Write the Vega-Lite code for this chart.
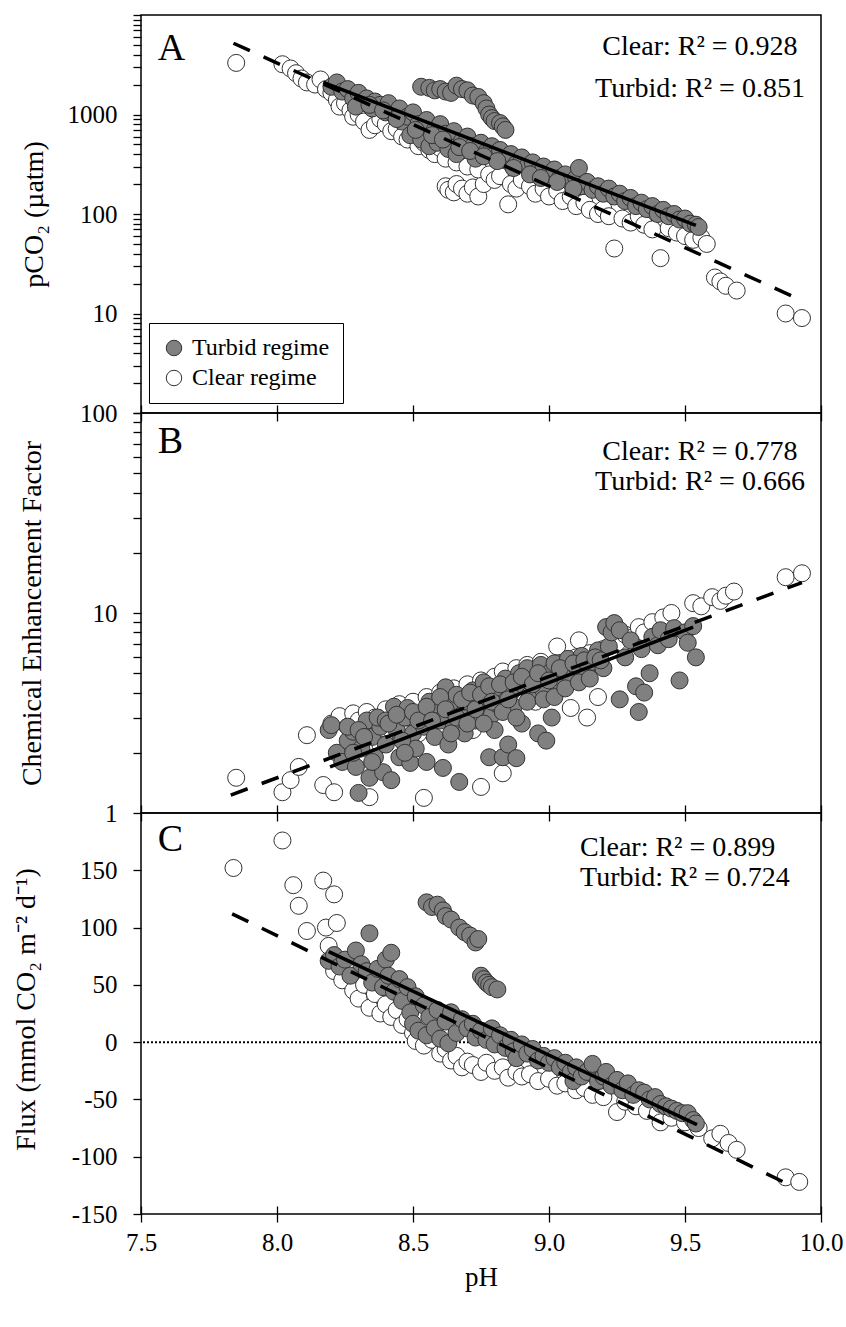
{
  "$schema": "https://vega.github.io/schema/vega-lite/v6.json",
  "autosize": "none",
  "padding": {"left": 141, "top": 15, "right": 705, "bottom": 1312},
  "background": "white",
  "bounds": "flush",
  "spacing": 0,
  "config": {
    "font": "Liberation Serif",
    "view": {"stroke": "black", "strokeWidth": 1.5},
    "axis": {"grid": false, "domain": false, "labelFont": "Liberation Serif", "labelFontSize": 25, "labelColor": "black", "titleFont": "Liberation Serif", "titleFontSize": 28, "titleFontWeight": "normal", "titleColor": "black", "tickColor": "black", "tickWidth": 1.3, "labelFlush": false, "labelOverlap": false},
    "axisX": {"offset": -8, "tickSize": 16, "labelPadding": 8, "titlePadding": 9},
    "axisY": {"tickSize": 8, "labelPadding": 16, "titleAngle": 270, "titleBaseline": "alphabetic", "titleAlign": "center"},
    "text": {"font": "Liberation Serif", "color": "black"}
  },
  "resolve": {"scale": {"fill": "independent"}, "legend": {"fill": "independent"}},
  "datasets": {
    "one": [{}],
    "fit": [
      {"p":"A","r":"C","x":7.84,"y":5200},{"p":"A","r":"C","x":9.93,"y":13.5},
      {"p":"A","r":"T","x":8.17,"y":2100},{"p":"A","r":"T","x":9.54,"y":77},
      {"p":"B","r":"C","x":7.83,"y":1.23},{"p":"B","r":"C","x":9.93,"y":14.2},
      {"p":"B","r":"T","x":8.195,"y":1.7},{"p":"B","r":"T","x":9.53,"y":8.5},
      {"p":"C","r":"C","x":7.835,"y":112},{"p":"C","r":"C","x":9.905,"y":-127},
      {"p":"C","r":"T","x":8.19,"y":79},{"p":"C","r":"T","x":9.544,"y":-72}
    ],
    "a": [
      {"r":"C","x":7.85,"y":3300},{"r":"C","x":8.02,"y":3200},{"r":"C","x":8.05,"y":2900},{"r":"C","x":8.07,"y":2600},{"r":"C","x":8.09,"y":2300},{"r":"C","x":8.11,"y":2100},{"r":"C","x":8.14,"y":2000},{"r":"C","x":8.16,"y":2250},{"r":"C","x":8.18,"y":1800},{"r":"C","x":8.2,"y":1650},{"r":"C","x":8.22,"y":1400},{"r":"C","x":8.23,"y":1200},{"r":"C","x":8.25,"y":1300},{"r":"C","x":8.27,"y":1100},{"r":"C","x":8.28,"y":950},{"r":"C","x":8.3,"y":1000},{"r":"C","x":8.32,"y":850},{"r":"C","x":8.34,"y":700},{"r":"C","x":8.36,"y":780},{"r":"C","x":8.38,"y":900},{"r":"C","x":8.4,"y":800},{"r":"C","x":8.42,"y":680},{"r":"C","x":8.44,"y":720},{"r":"C","x":8.46,"y":600},{"r":"C","x":8.48,"y":560},{"r":"C","x":8.5,"y":620},{"r":"C","x":8.52,"y":480},{"r":"C","x":8.54,"y":520},{"r":"C","x":8.56,"y":440},{"r":"C","x":8.58,"y":400},{"r":"C","x":8.6,"y":460},{"r":"C","x":8.62,"y":190},{"r":"C","x":8.63,"y":175},{"r":"C","x":8.65,"y":165},{"r":"C","x":8.66,"y":200},{"r":"C","x":8.68,"y":180},{"r":"C","x":8.7,"y":160},{"r":"C","x":8.72,"y":185},{"r":"C","x":8.74,"y":150},{"r":"C","x":8.76,"y":200},{"r":"C","x":8.62,"y":360},{"r":"C","x":8.66,"y":330},{"r":"C","x":8.7,"y":300},{"r":"C","x":8.74,"y":280},{"r":"C","x":8.78,"y":250},{"r":"C","x":8.8,"y":220},{"r":"C","x":8.82,"y":240},{"r":"C","x":8.85,"y":125},{"r":"C","x":8.86,"y":200},{"r":"C","x":8.88,"y":180},{"r":"C","x":8.9,"y":220},{"r":"C","x":8.93,"y":190},{"r":"C","x":8.95,"y":160},{"r":"C","x":8.98,"y":180},{"r":"C","x":9.0,"y":150},{"r":"C","x":9.03,"y":170},{"r":"C","x":9.05,"y":135},{"r":"C","x":9.08,"y":150},{"r":"C","x":9.1,"y":120},{"r":"C","x":9.13,"y":130},{"r":"C","x":9.15,"y":110},{"r":"C","x":9.18,"y":100},{"r":"C","x":9.2,"y":112},{"r":"C","x":9.22,"y":95},{"r":"C","x":9.24,"y":45},{"r":"C","x":9.27,"y":90},{"r":"C","x":9.3,"y":82},{"r":"C","x":9.33,"y":95},{"r":"C","x":9.35,"y":78},{"r":"C","x":9.38,"y":70},{"r":"C","x":9.41,"y":36},{"r":"C","x":9.44,"y":72},{"r":"C","x":9.47,"y":65},{"r":"C","x":9.5,"y":60},{"r":"C","x":9.53,"y":55},{"r":"C","x":9.56,"y":58},{"r":"C","x":9.58,"y":50},{"r":"C","x":9.61,"y":23},{"r":"C","x":9.63,"y":21},{"r":"C","x":9.65,"y":19},{"r":"C","x":9.69,"y":17},{"r":"C","x":9.87,"y":10},{"r":"C","x":9.93,"y":9},
      {"r":"T","x":8.2,"y":1900},{"r":"T","x":8.22,"y":2100},{"r":"T","x":8.24,"y":1700},{"r":"T","x":8.26,"y":1800},{"r":"T","x":8.28,"y":1450},{"r":"T","x":8.3,"y":1650},{"r":"T","x":8.31,"y":1300},{"r":"T","x":8.33,"y":1450},{"r":"T","x":8.35,"y":1150},{"r":"T","x":8.36,"y":1350},{"r":"T","x":8.38,"y":1250},{"r":"T","x":8.4,"y":1050},{"r":"T","x":8.41,"y":1300},{"r":"T","x":8.43,"y":1000},{"r":"T","x":8.45,"y":1150},{"r":"T","x":8.46,"y":850},{"r":"T","x":8.48,"y":950},{"r":"T","x":8.49,"y":620},{"r":"T","x":8.5,"y":1050},{"r":"T","x":8.52,"y":800},{"r":"T","x":8.53,"y":560},{"r":"T","x":8.55,"y":880},{"r":"T","x":8.56,"y":480},{"r":"T","x":8.58,"y":700},{"r":"T","x":8.59,"y":520},{"r":"T","x":8.6,"y":800},{"r":"T","x":8.62,"y":640},{"r":"T","x":8.63,"y":450},{"r":"T","x":8.65,"y":680},{"r":"T","x":8.66,"y":400},{"r":"T","x":8.68,"y":540},{"r":"T","x":8.7,"y":600},{"r":"T","x":8.72,"y":480},{"r":"T","x":8.73,"y":360},{"r":"T","x":8.75,"y":520},{"r":"T","x":8.77,"y":420},{"r":"T","x":8.79,"y":480},{"r":"T","x":8.8,"y":390},{"r":"T","x":8.82,"y":440},{"r":"T","x":8.84,"y":350},{"r":"T","x":8.86,"y":400},{"r":"T","x":8.88,"y":320},{"r":"T","x":8.9,"y":370},{"r":"T","x":8.92,"y":300},{"r":"T","x":8.94,"y":330},{"r":"T","x":8.96,"y":270},{"r":"T","x":8.98,"y":300},{"r":"T","x":9.0,"y":250},{"r":"T","x":9.02,"y":280},{"r":"T","x":9.04,"y":230},{"r":"T","x":9.06,"y":250},{"r":"T","x":9.08,"y":205},{"r":"T","x":9.1,"y":230},{"r":"T","x":9.11,"y":290},{"r":"T","x":9.12,"y":190},{"r":"T","x":9.14,"y":210},{"r":"T","x":9.16,"y":175},{"r":"T","x":9.18,"y":190},{"r":"T","x":9.2,"y":160},{"r":"T","x":9.22,"y":180},{"r":"T","x":9.24,"y":150},{"r":"T","x":9.26,"y":160},{"r":"T","x":9.28,"y":135},{"r":"T","x":9.3,"y":145},{"r":"T","x":9.32,"y":120},{"r":"T","x":9.34,"y":130},{"r":"T","x":9.36,"y":112},{"r":"T","x":9.38,"y":120},{"r":"T","x":9.4,"y":100},{"r":"T","x":9.42,"y":110},{"r":"T","x":9.44,"y":95},{"r":"T","x":9.46,"y":100},{"r":"T","x":9.48,"y":88},{"r":"T","x":9.5,"y":90},{"r":"T","x":9.52,"y":80},{"r":"T","x":9.54,"y":78},{"r":"T","x":9.55,"y":74},
      {"r":"T","x":8.29,"y":1200},{"r":"T","x":8.34,"y":1250},{"r":"T","x":8.39,"y":1100},{"r":"T","x":8.44,"y":900},{"r":"T","x":8.51,"y":700},{"r":"T","x":8.57,"y":620},{"r":"T","x":8.61,"y":560},{"r":"T","x":8.67,"y":470},{"r":"T","x":8.71,"y":430},{"r":"T","x":8.76,"y":380},{"r":"T","x":8.81,"y":340},{"r":"T","x":8.87,"y":290},{"r":"T","x":8.93,"y":250},{"r":"T","x":8.97,"y":230},{"r":"T","x":9.03,"y":210},{"r":"T","x":9.09,"y":180},
      {"r":"T","x":8.53,"y":1900},{"r":"T","x":8.56,"y":1850},{"r":"T","x":8.58,"y":1750},{"r":"T","x":8.6,"y":1800},{"r":"T","x":8.62,"y":1700},{"r":"T","x":8.64,"y":1650},{"r":"T","x":8.66,"y":1950},{"r":"T","x":8.68,"y":1800},{"r":"T","x":8.7,"y":1750},{"r":"T","x":8.72,"y":1550},{"r":"T","x":8.74,"y":1500},{"r":"T","x":8.76,"y":1300},{"r":"T","x":8.77,"y":1150},{"r":"T","x":8.78,"y":1000},{"r":"T","x":8.79,"y":920},{"r":"T","x":8.8,"y":860},{"r":"T","x":8.82,"y":820},{"r":"T","x":8.83,"y":760},{"r":"T","x":8.84,"y":700}
    ],
    "b": [
      {"r":"C","x":7.85,"y":1.5},{"r":"C","x":8.02,"y":1.27},{"r":"C","x":8.05,"y":1.46},{"r":"C","x":8.08,"y":1.7},{"r":"C","x":8.11,"y":2.45},{"r":"C","x":8.17,"y":1.38},{"r":"C","x":8.21,"y":1.27},{"r":"C","x":8.2,"y":2.8},{"r":"C","x":8.23,"y":3.05},{"r":"C","x":8.26,"y":2.7},{"r":"C","x":8.28,"y":3.15},{"r":"C","x":8.3,"y":2.9},{"r":"C","x":8.33,"y":3.2},{"r":"C","x":8.34,"y":1.2},{"r":"C","x":8.36,"y":3.0},{"r":"C","x":8.38,"y":2.2},{"r":"C","x":8.4,"y":3.3},{"r":"C","x":8.42,"y":2.6},{"r":"C","x":8.45,"y":3.5},{"r":"C","x":8.48,"y":3.0},{"r":"C","x":8.5,"y":3.6},{"r":"C","x":8.52,"y":2.5},{"r":"C","x":8.54,"y":1.19},{"r":"C","x":8.55,"y":3.8},{"r":"C","x":8.58,"y":3.3},{"r":"C","x":8.6,"y":4.0},{"r":"C","x":8.63,"y":3.5},{"r":"C","x":8.65,"y":4.2},{"r":"C","x":8.68,"y":3.0},{"r":"C","x":8.7,"y":4.4},{"r":"C","x":8.72,"y":2.6},{"r":"C","x":8.75,"y":1.35},{"r":"C","x":8.75,"y":4.6},{"r":"C","x":8.78,"y":3.9},{"r":"C","x":8.8,"y":4.8},{"r":"C","x":8.83,"y":1.58},{"r":"C","x":8.83,"y":5.1},{"r":"C","x":8.85,"y":4.2},{"r":"C","x":8.88,"y":5.3},{"r":"C","x":8.9,"y":4.5},{"r":"C","x":8.92,"y":5.5},{"r":"C","x":8.95,"y":3.6},{"r":"C","x":8.97,"y":5.7},{"r":"C","x":9.0,"y":5.0},{"r":"C","x":9.03,"y":6.8},{"r":"C","x":9.05,"y":5.6},{"r":"C","x":9.08,"y":3.35},{"r":"C","x":9.1,"y":6.0},{"r":"C","x":9.11,"y":7.3},{"r":"C","x":9.14,"y":3.0},{"r":"C","x":9.15,"y":6.3},{"r":"C","x":9.18,"y":3.8},{"r":"C","x":9.2,"y":6.6},{"r":"C","x":9.25,"y":7.1},{"r":"C","x":9.28,"y":7.8},{"r":"C","x":9.3,"y":7.5},{"r":"C","x":9.33,"y":8.5},{"r":"C","x":9.35,"y":8.0},{"r":"C","x":9.38,"y":9.0},{"r":"C","x":9.42,"y":9.5},{"r":"C","x":9.45,"y":10.0},{"r":"C","x":9.53,"y":11.2},{"r":"C","x":9.56,"y":10.8},{"r":"C","x":9.6,"y":12.0},{"r":"C","x":9.63,"y":11.5},{"r":"C","x":9.65,"y":12.2},{"r":"C","x":9.68,"y":12.8},{"r":"C","x":9.87,"y":15.1},{"r":"C","x":9.93,"y":15.8},
      {"r":"T","x":8.19,"y":2.6},{"r":"T","x":8.2,"y":2.75},{"r":"T","x":8.22,"y":2.0},{"r":"T","x":8.24,"y":1.8},{"r":"T","x":8.26,"y":2.3},{"r":"T","x":8.28,"y":2.55},{"r":"T","x":8.29,"y":1.7},{"r":"T","x":8.3,"y":1.26},{"r":"T","x":8.31,"y":2.1},{"r":"T","x":8.33,"y":2.9},{"r":"T","x":8.34,"y":1.5},{"r":"T","x":8.35,"y":2.4},{"r":"T","x":8.36,"y":1.9},{"r":"T","x":8.38,"y":2.7},{"r":"T","x":8.39,"y":1.6},{"r":"T","x":8.4,"y":2.2},{"r":"T","x":8.42,"y":1.46},{"r":"T","x":8.43,"y":3.4},{"r":"T","x":8.44,"y":2.6},{"r":"T","x":8.45,"y":1.9},{"r":"T","x":8.47,"y":3.0},{"r":"T","x":8.48,"y":3.35},{"r":"T","x":8.49,"y":1.78},{"r":"T","x":8.5,"y":2.5},{"r":"T","x":8.51,"y":2.1},{"r":"T","x":8.53,"y":3.1},{"r":"T","x":8.54,"y":2.7},{"r":"T","x":8.55,"y":1.8},{"r":"T","x":8.56,"y":3.6},{"r":"T","x":8.58,"y":2.4},{"r":"T","x":8.59,"y":3.3},{"r":"T","x":8.6,"y":2.9},{"r":"T","x":8.61,"y":1.68},{"r":"T","x":8.62,"y":4.25},{"r":"T","x":8.63,"y":2.2},{"r":"T","x":8.64,"y":3.5},{"r":"T","x":8.65,"y":2.7},{"r":"T","x":8.66,"y":3.9},{"r":"T","x":8.67,"y":1.43},{"r":"T","x":8.68,"y":3.1},{"r":"T","x":8.69,"y":2.5},{"r":"T","x":8.7,"y":3.6},{"r":"T","x":8.72,"y":4.1},{"r":"T","x":8.73,"y":2.9},{"r":"T","x":8.74,"y":3.4},{"r":"T","x":8.76,"y":4.5},{"r":"T","x":8.77,"y":3.8},{"r":"T","x":8.78,"y":1.9},{"r":"T","x":8.79,"y":3.1},{"r":"T","x":8.8,"y":4.2},{"r":"T","x":8.8,"y":2.6},{"r":"T","x":8.81,"y":3.5},{"r":"T","x":8.83,"y":1.9},{"r":"T","x":8.84,"y":4.7},{"r":"T","x":8.85,"y":2.2},{"r":"T","x":8.86,"y":4.0},{"r":"T","x":8.87,"y":3.4},{"r":"T","x":8.88,"y":1.88},{"r":"T","x":8.89,"y":5.0},{"r":"T","x":8.9,"y":2.8},{"r":"T","x":8.91,"y":4.3},{"r":"T","x":8.92,"y":5.3},{"r":"T","x":8.93,"y":3.9},{"r":"T","x":8.95,"y":4.6},{"r":"T","x":8.96,"y":2.5},{"r":"T","x":8.97,"y":5.5},{"r":"T","x":8.98,"y":4.1},{"r":"T","x":8.99,"y":2.3},{"r":"T","x":9.0,"y":5.0},{"r":"T","x":9.01,"y":3.0},{"r":"T","x":9.02,"y":5.6},{"r":"T","x":9.03,"y":4.4},{"r":"T","x":9.05,"y":5.2},{"r":"T","x":9.07,"y":5.9},{"r":"T","x":9.08,"y":4.8},{"r":"T","x":9.1,"y":5.4},{"r":"T","x":9.12,"y":6.1},{"r":"T","x":9.14,"y":5.0},{"r":"T","x":9.16,"y":5.7},{"r":"T","x":9.18,"y":6.5},{"r":"T","x":9.2,"y":5.3},{"r":"T","x":9.21,"y":8.5},{"r":"T","x":9.22,"y":6.8},{"r":"T","x":9.23,"y":8.0},{"r":"T","x":9.24,"y":8.9},{"r":"T","x":9.26,"y":8.2},{"r":"T","x":9.26,"y":3.7},{"r":"T","x":9.28,"y":6.0},{"r":"T","x":9.3,"y":7.3},{"r":"T","x":9.32,"y":4.3},{"r":"T","x":9.33,"y":3.2},{"r":"T","x":9.34,"y":6.6},{"r":"T","x":9.35,"y":4.0},{"r":"T","x":9.37,"y":5.0},{"r":"T","x":9.38,"y":7.6},{"r":"T","x":9.4,"y":6.9},{"r":"T","x":9.41,"y":8.2},{"r":"T","x":9.44,"y":7.4},{"r":"T","x":9.46,"y":8.4},{"r":"T","x":9.48,"y":4.6},{"r":"T","x":9.5,"y":8.0},{"r":"T","x":9.51,"y":7.1},{"r":"T","x":9.53,"y":8.6},{"r":"T","x":9.54,"y":6.0},
      {"r":"T","x":8.26,"y":2.7},{"r":"T","x":8.28,"y":2.0},{"r":"T","x":8.3,"y":2.6},{"r":"T","x":8.32,"y":2.4},{"r":"T","x":8.35,"y":1.8},{"r":"T","x":8.37,"y":3.0},{"r":"T","x":8.4,"y":2.9},{"r":"T","x":8.41,"y":2.8},{"r":"T","x":8.44,"y":3.1},{"r":"T","x":8.46,"y":2.3},{"r":"T","x":8.47,"y":2.0},{"r":"T","x":8.5,"y":3.2},{"r":"T","x":8.52,"y":2.9},{"r":"T","x":8.55,"y":3.4},{"r":"T","x":8.57,"y":2.9},{"r":"T","x":8.6,"y":3.8},{"r":"T","x":8.62,"y":3.3},{"r":"T","x":8.64,"y":2.5},{"r":"T","x":8.66,"y":3.0},{"r":"T","x":8.68,"y":3.7},{"r":"T","x":8.7,"y":2.8},{"r":"T","x":8.71,"y":4.0},{"r":"T","x":8.73,"y":3.3},{"r":"T","x":8.75,"y":3.9},{"r":"T","x":8.76,"y":2.8},{"r":"T","x":8.78,"y":4.3},{"r":"T","x":8.79,"y":3.6},{"r":"T","x":8.82,"y":4.4},{"r":"T","x":8.83,"y":3.2},{"r":"T","x":8.85,"y":3.7},{"r":"T","x":8.87,"y":4.5},{"r":"T","x":8.88,"y":3.0},{"r":"T","x":8.9,"y":4.8},{"r":"T","x":8.92,"y":3.6},{"r":"T","x":8.94,"y":4.4},{"r":"T","x":8.96,"y":5.0},{"r":"T","x":8.98,"y":3.7},{"r":"T","x":9.0,"y":4.6},{"r":"T","x":9.02,"y":3.8},{"r":"T","x":9.04,"y":5.3},{"r":"T","x":9.06,"y":4.2},{"r":"T","x":9.09,"y":5.6},{"r":"T","x":9.11,"y":4.5},{"r":"T","x":9.13,"y":5.8},{"r":"T","x":9.15,"y":4.7},{"r":"T","x":9.17,"y":6.0},{"r":"T","x":9.19,"y":5.8}
    ],
    "c": [
      {"r":"C","x":7.84,"y":152},{"r":"C","x":8.02,"y":176},{"r":"C","x":8.06,"y":137},{"r":"C","x":8.08,"y":119},{"r":"C","x":8.11,"y":97},{"r":"C","x":8.17,"y":141},{"r":"C","x":8.21,"y":129},{"r":"C","x":8.18,"y":100},{"r":"C","x":8.22,"y":104},{"r":"C","x":8.19,"y":84},{"r":"C","x":8.21,"y":62},{"r":"C","x":8.24,"y":54},{"r":"C","x":8.26,"y":70},{"r":"C","x":8.28,"y":45},{"r":"C","x":8.3,"y":38},{"r":"C","x":8.32,"y":50},{"r":"C","x":8.34,"y":30},{"r":"C","x":8.36,"y":42},{"r":"C","x":8.38,"y":25},{"r":"C","x":8.4,"y":33},{"r":"C","x":8.42,"y":22},{"r":"C","x":8.44,"y":28},{"r":"C","x":8.46,"y":15},{"r":"C","x":8.48,"y":20},{"r":"C","x":8.5,"y":8},{"r":"C","x":8.51,"y":1},{"r":"C","x":8.54,"y":-3},{"r":"C","x":8.57,"y":2},{"r":"C","x":8.6,"y":-10},{"r":"C","x":8.62,"y":-6},{"r":"C","x":8.64,"y":-16},{"r":"C","x":8.66,"y":-12},{"r":"C","x":8.68,"y":-22},{"r":"C","x":8.7,"y":-17},{"r":"C","x":8.72,"y":-20},{"r":"C","x":8.75,"y":-26},{"r":"C","x":8.77,"y":-18},{"r":"C","x":8.8,"y":-25},{"r":"C","x":8.83,"y":-22},{"r":"C","x":8.85,"y":-31},{"r":"C","x":8.88,"y":-26},{"r":"C","x":8.9,"y":-30},{"r":"C","x":8.93,"y":-28},{"r":"C","x":8.96,"y":-34},{"r":"C","x":9.0,"y":-32},{"r":"C","x":9.03,"y":-38},{"r":"C","x":9.06,"y":-36},{"r":"C","x":9.1,"y":-42},{"r":"C","x":9.13,"y":-40},{"r":"C","x":9.16,"y":-46},{"r":"C","x":9.2,"y":-48},{"r":"C","x":9.25,"y":-61},{"r":"C","x":9.28,"y":-52},{"r":"C","x":9.32,"y":-56},{"r":"C","x":9.36,"y":-60},{"r":"C","x":9.4,"y":-62},{"r":"C","x":9.41,"y":-70},{"r":"C","x":9.45,"y":-66},{"r":"C","x":9.5,"y":-70},{"r":"C","x":9.55,"y":-75},{"r":"C","x":9.6,"y":-84},{"r":"C","x":9.63,"y":-80},{"r":"C","x":9.66,"y":-88},{"r":"C","x":9.69,"y":-94},{"r":"C","x":9.87,"y":-118},{"r":"C","x":9.92,"y":-122},
      {"r":"T","x":8.19,"y":71},{"r":"T","x":8.21,"y":76},{"r":"T","x":8.23,"y":66},{"r":"T","x":8.25,"y":72},{"r":"T","x":8.27,"y":58},{"r":"T","x":8.29,"y":80},{"r":"T","x":8.31,"y":68},{"r":"T","x":8.33,"y":62},{"r":"T","x":8.34,"y":95},{"r":"T","x":8.35,"y":52},{"r":"T","x":8.37,"y":64},{"r":"T","x":8.39,"y":48},{"r":"T","x":8.4,"y":72},{"r":"T","x":8.41,"y":58},{"r":"T","x":8.42,"y":78},{"r":"T","x":8.43,"y":44},{"r":"T","x":8.45,"y":55},{"r":"T","x":8.46,"y":36},{"r":"T","x":8.48,"y":48},{"r":"T","x":8.49,"y":26},{"r":"T","x":8.5,"y":16},{"r":"T","x":8.51,"y":40},{"r":"T","x":8.52,"y":10},{"r":"T","x":8.54,"y":32},{"r":"T","x":8.55,"y":6},{"r":"T","x":8.56,"y":22},{"r":"T","x":8.58,"y":12},{"r":"T","x":8.59,"y":28},{"r":"T","x":8.6,"y":3},{"r":"T","x":8.62,"y":18},{"r":"T","x":8.63,"y":-1},{"r":"T","x":8.64,"y":26},{"r":"T","x":8.66,"y":8},{"r":"T","x":8.68,"y":20},{"r":"T","x":8.7,"y":12},{"r":"T","x":8.72,"y":16},{"r":"T","x":8.73,"y":4},{"r":"T","x":8.75,"y":10},{"r":"T","x":8.77,"y":2},{"r":"T","x":8.79,"y":12},{"r":"T","x":8.8,"y":-2},{"r":"T","x":8.82,"y":6},{"r":"T","x":8.84,"y":-5},{"r":"T","x":8.86,"y":2},{"r":"T","x":8.87,"y":-8},{"r":"T","x":8.88,"y":-14},{"r":"T","x":8.9,"y":-2},{"r":"T","x":8.92,"y":-10},{"r":"T","x":8.94,"y":-6},{"r":"T","x":8.96,"y":-16},{"r":"T","x":8.98,"y":-12},{"r":"T","x":9.0,"y":-18},{"r":"T","x":9.02,"y":-14},{"r":"T","x":9.04,"y":-22},{"r":"T","x":9.06,"y":-18},{"r":"T","x":9.08,"y":-26},{"r":"T","x":9.09,"y":-34},{"r":"T","x":9.1,"y":-22},{"r":"T","x":9.12,"y":-30},{"r":"T","x":9.14,"y":-26},{"r":"T","x":9.16,"y":-19},{"r":"T","x":9.18,"y":-34},{"r":"T","x":9.2,"y":-30},{"r":"T","x":9.21,"y":-26},{"r":"T","x":9.23,"y":-38},{"r":"T","x":9.25,"y":-33},{"r":"T","x":9.27,"y":-42},{"r":"T","x":9.29,"y":-36},{"r":"T","x":9.31,"y":-46},{"r":"T","x":9.33,"y":-42},{"r":"T","x":9.35,"y":-44},{"r":"T","x":9.37,"y":-50},{"r":"T","x":9.39,"y":-48},{"r":"T","x":9.41,"y":-54},{"r":"T","x":9.43,"y":-56},{"r":"T","x":9.45,"y":-58},{"r":"T","x":9.47,"y":-60},{"r":"T","x":9.49,"y":-62},{"r":"T","x":9.51,"y":-62},{"r":"T","x":9.53,"y":-68},{"r":"T","x":9.54,"y":-71},
      {"r":"T","x":8.55,"y":122},{"r":"T","x":8.57,"y":118},{"r":"T","x":8.59,"y":120},{"r":"T","x":8.61,"y":115},{"r":"T","x":8.62,"y":110},{"r":"T","x":8.64,"y":107},{"r":"T","x":8.67,"y":100},{"r":"T","x":8.69,"y":96},{"r":"T","x":8.71,"y":93},{"r":"T","x":8.73,"y":87},{"r":"T","x":8.74,"y":90},{"r":"T","x":8.75,"y":58},{"r":"T","x":8.76,"y":55},{"r":"T","x":8.77,"y":52},{"r":"T","x":8.78,"y":50},{"r":"T","x":8.79,"y":48},{"r":"T","x":8.81,"y":46}
    ]
  },
  "vconcat": [
    {
      "width": 680, "height": 398,
      "layer": [
        {
          "data": {"name": "a"},
          "mark": {"type": "circle", "size": 290, "stroke": "#333333", "strokeWidth": 1, "opacity": 1},
          "encoding": {
            "x": {"field": "x", "type": "quantitative", "scale": {"domain": [7.5, 10], "nice": false}, "axis": {"values": [7.5, 8, 8.5, 9, 9.5, 10], "labels": false, "title": null}},
            "y": {"field": "y", "type": "quantitative", "scale": {"type": "log", "domain": [1, 10000], "nice": false}, "axis": {"values": [1,2,3,4,5,6,7,8,9,10,20,30,40,50,60,70,80,90,100,200,300,400,500,600,700,800,900,1000,2000,3000,4000,5000,6000,7000,8000,9000,10000], "labelExpr": "(datum.value == 10 || datum.value == 100 || datum.value == 1000) ? '' + datum.value : ''", "title": "pCO₂ (µatm)", "titleX": -99, "titleY": 199}},
            "fill": {"field": "r", "type": "nominal", "scale": {"domain": ["T", "C"], "range": ["#808080", "#ffffff"]}, "legend": {"orient": "none", "legendX": 8, "legendY": 308, "title": null, "labelExpr": "datum.value == 'T' ? 'Turbid regime' : 'Clear regime'", "strokeColor": "black", "fillColor": "white", "padding": 13, "labelFont": "Liberation Serif", "labelFontSize": 24, "labelColor": "black", "symbolSize": 240, "symbolType": "circle", "symbolStrokeColor": "#333333", "symbolStrokeWidth": 1, "rowPadding": 6, "labelOffset": 6}}
          }
        },
        {
          "data": {"name": "fit"},
          "transform": [{"filter": "datum.p == 'A' && datum.r == 'C'"}],
          "mark": {"type": "line", "stroke": "black", "strokeWidth": 3.5, "strokeDash": [18, 15]},
          "encoding": {"x": {"field": "x", "type": "quantitative"}, "y": {"field": "y", "type": "quantitative"}}
        },
        {
          "data": {"name": "fit"},
          "transform": [{"filter": "datum.p == 'A' && datum.r == 'T'"}],
          "mark": {"type": "line", "stroke": "black", "strokeWidth": 3.5},
          "encoding": {"x": {"field": "x", "type": "quantitative"}, "y": {"field": "y", "type": "quantitative"}}
        },
        {"data": {"name": "one"}, "mark": {"type": "text", "text": "A", "fontSize": 38, "align": "left", "baseline": "alphabetic"}, "encoding": {"x": {"datum": 7.562}, "y": {"datum": 3530}}},
        {"data": {"name": "one"}, "mark": {"type": "text", "text": "Clear: R² = 0.928", "fontSize": 28, "align": "center", "baseline": "alphabetic"}, "encoding": {"x": {"datum": 9.555}, "y": {"datum": 3960}}},
        {"data": {"name": "one"}, "mark": {"type": "text", "text": "Turbid: R² = 0.851", "fontSize": 28, "align": "center", "baseline": "alphabetic"}, "encoding": {"x": {"datum": 9.555}, "y": {"datum": 1510}}}
      ]
    },
    {
      "width": 680, "height": 400,
      "layer": [
        {
          "data": {"name": "b"},
          "mark": {"type": "circle", "size": 290, "stroke": "#333333", "strokeWidth": 1, "opacity": 1},
          "encoding": {
            "x": {"field": "x", "type": "quantitative", "scale": {"domain": [7.5, 10], "nice": false}, "axis": {"values": [7.5, 8, 8.5, 9, 9.5, 10], "labels": false, "title": null}},
            "y": {"field": "y", "type": "quantitative", "scale": {"type": "log", "domain": [1, 100], "nice": false}, "axis": {"values": [1,2,3,4,5,6,7,8,9,10,20,30,40,50,60,70,80,90,100], "labelExpr": "(datum.value == 1 || datum.value == 10 || datum.value == 100) ? '' + datum.value : ''", "title": "Chemical Enhancement Factor", "titleX": -101, "titleY": 200}},
            "fill": {"field": "r", "type": "nominal", "scale": {"domain": ["T", "C"], "range": ["#808080", "#ffffff"]}, "legend": null}
          }
        },
        {
          "data": {"name": "fit"},
          "transform": [{"filter": "datum.p == 'B' && datum.r == 'C'"}],
          "mark": {"type": "line", "stroke": "black", "strokeWidth": 3.5, "strokeDash": [18, 15]},
          "encoding": {"x": {"field": "x", "type": "quantitative"}, "y": {"field": "y", "type": "quantitative"}}
        },
        {
          "data": {"name": "fit"},
          "transform": [{"filter": "datum.p == 'B' && datum.r == 'T'"}],
          "mark": {"type": "line", "stroke": "black", "strokeWidth": 3.5},
          "encoding": {"x": {"field": "x", "type": "quantitative"}, "y": {"field": "y", "type": "quantitative"}}
        },
        {"data": {"name": "one"}, "mark": {"type": "text", "text": "B", "fontSize": 38, "align": "left", "baseline": "alphabetic"}, "encoding": {"x": {"datum": 7.562}, "y": {"datum": 63}}},
        {"data": {"name": "one"}, "mark": {"type": "text", "text": "Clear: R² = 0.778", "fontSize": 28, "align": "center", "baseline": "alphabetic"}, "encoding": {"x": {"datum": 9.555}, "y": {"datum": 58.2}}},
        {"data": {"name": "one"}, "mark": {"type": "text", "text": "Turbid: R² = 0.666", "fontSize": 28, "align": "center", "baseline": "alphabetic"}, "encoding": {"x": {"datum": 9.555}, "y": {"datum": 41.2}}}
      ]
    },
    {
      "width": 680, "height": 401,
      "layer": [
        {"data": {"name": "one"}, "mark": {"type": "rule", "stroke": "black", "strokeWidth": 2, "strokeDash": [2, 2]}, "encoding": {"y": {"datum": 0}}},
        {
          "data": {"name": "c"},
          "mark": {"type": "circle", "size": 290, "stroke": "#333333", "strokeWidth": 1, "opacity": 1},
          "encoding": {
            "x": {"field": "x", "type": "quantitative", "scale": {"domain": [7.5, 10], "nice": false}, "axis": {"values": [7.5, 8, 8.5, 9, 9.5, 10], "format": ".1f", "title": "pH", "titleFontSize": 27}},
            "y": {"field": "y", "type": "quantitative", "scale": {"domain": [-150, 200], "nice": false, "zero": false}, "axis": {"values": [-150, -100, -50, 0, 50, 100, 150], "labelExpr": "(datum.value < 0 ? '-' : '') + abs(datum.value)", "title": "Flux (mmol CO₂ m⁻² d⁻¹)", "titleX": -107, "titleY": 196}},
            "fill": {"field": "r", "type": "nominal", "scale": {"domain": ["T", "C"], "range": ["#808080", "#ffffff"]}, "legend": null}
          }
        },
        {
          "data": {"name": "fit"},
          "transform": [{"filter": "datum.p == 'C' && datum.r == 'C'"}],
          "mark": {"type": "line", "stroke": "black", "strokeWidth": 3.5, "strokeDash": [18, 15]},
          "encoding": {"x": {"field": "x", "type": "quantitative"}, "y": {"field": "y", "type": "quantitative"}}
        },
        {
          "data": {"name": "fit"},
          "transform": [{"filter": "datum.p == 'C' && datum.r == 'T'"}],
          "mark": {"type": "line", "stroke": "black", "strokeWidth": 3.5},
          "encoding": {"x": {"field": "x", "type": "quantitative"}, "y": {"field": "y", "type": "quantitative"}}
        },
        {"data": {"name": "one"}, "mark": {"type": "text", "text": "C", "fontSize": 38, "align": "left", "baseline": "alphabetic"}, "encoding": {"x": {"datum": 7.562}, "y": {"datum": 167}}},
        {"data": {"name": "one"}, "mark": {"type": "text", "text": "Clear: R² = 0.899", "fontSize": 28, "align": "left", "baseline": "alphabetic"}, "encoding": {"x": {"datum": 9.114}, "y": {"datum": 162.7}}},
        {"data": {"name": "one"}, "mark": {"type": "text", "text": "Turbid: R² = 0.724", "fontSize": 28, "align": "left", "baseline": "alphabetic"}, "encoding": {"x": {"datum": 9.114}, "y": {"datum": 135.9}}}
      ]
    }
  ]
}
